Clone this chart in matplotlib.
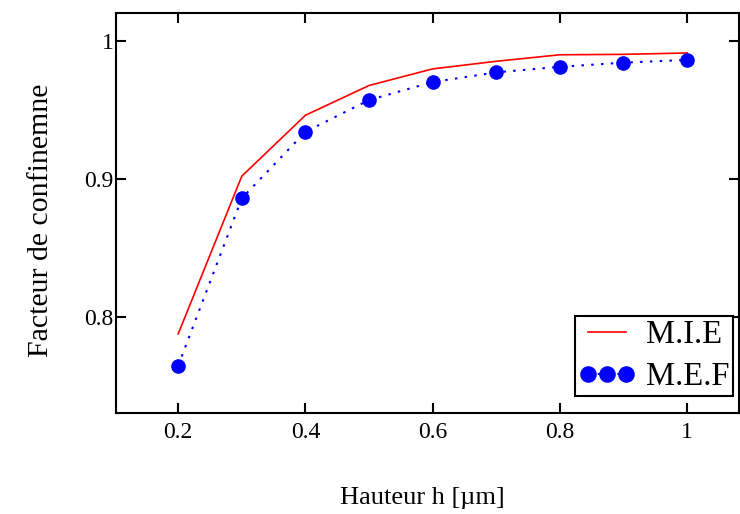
import matplotlib
matplotlib.use("Agg")
import matplotlib.pyplot as plt

plt.rcParams['font.family'] = ['Liberation Serif', 'DejaVu Serif']

# hauteur du guide (µm)
h = [0.2, 0.3, 0.4, 0.5, 0.6, 0.7, 0.8, 0.9, 1.0]
# facteur de confinement : méthode de l'indice effectif
mie = [0.788, 0.902, 0.946, 0.9675, 0.9795, 0.985, 0.9897, 0.990, 0.991]
# facteur de confinement : méthode des éléments finis
mef = [0.765, 0.886, 0.934, 0.957, 0.970, 0.977, 0.981, 0.984, 0.986]

xticks = [0.2, 0.4, 0.6, 0.8, 1.0]
xtick_labels = ["0.2", "0.4", "0.6", "0.8", "1"]
yticks = [0.8, 0.9, 1.0]
ytick_labels = ["0.8", "0.9", "1"]

fig = plt.figure(figsize=(7.4, 5.14), dpi=100)
ax = fig.add_axes([0.157, 0.197, 0.842, 0.778])

ax.plot(h, mie, color="red", lw=1.2, label="M.I.E")
ax.plot(h, mef, color="blue", lw=1.5, linestyle=(0, (1.2, 3.5)),
        marker="o", markersize=9.5, label="M.E.F")

ax.set_xlim(0.1025, 1.082)
ax.set_ylim(0.731, 1.02)
ax.set_xticks(xticks)
ax.set_xticklabels(xtick_labels)
ax.set_yticks(yticks)
ax.set_yticklabels(ytick_labels)
ax.tick_params(direction="in", length=7, width=1.5, labelsize=17,
               top=True, right=True)
ax.tick_params(axis="x", pad=7)
ax.tick_params(axis="y", pad=2)
for s in ax.spines.values():
    s.set_linewidth(1.5)

ax.set_xlabel("Hauteur h [µm]", fontsize=19, labelpad=31)
ax.set_ylabel("Facteur de confinemne", fontsize=21.5, labelpad=22)
ax.xaxis.label.set_x(0.492)
ax.yaxis.label.set_y(0.48)

leg = ax.legend(loc="lower right", numpoints=3, fontsize=23.5, fancybox=False,
                framealpha=1, edgecolor="black", handlelength=1.75,
                handletextpad=0.3, borderpad=0.12, labelspacing=0.35,
                borderaxespad=0, markerscale=1.15,
                bbox_to_anchor=(0.99, 0.042))
leg.get_frame().set_linewidth(1.5)

fig.savefig("out.png", dpi=100)
